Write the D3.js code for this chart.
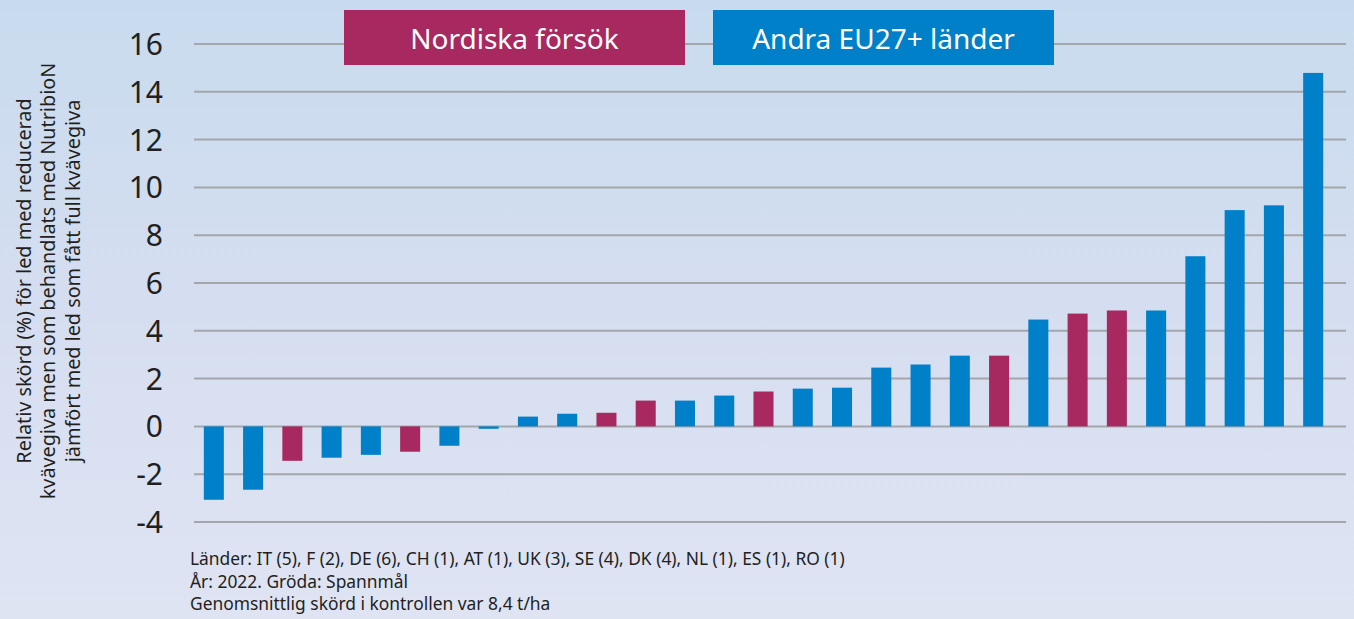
<!DOCTYPE html>
<html>
<head>
<meta charset="UTF-8">
<title>Relativ skörd</title>
<script src="https://cdn.jsdelivr.net/npm/d3@7"></script>
<style>
  html, body { margin: 0; padding: 0; }
  body { width: 1354px; height: 619px; overflow: hidden;
         background: linear-gradient(180deg, #c8dbee 0%, #d5def0 50%, #dfe4f3 100%); }
  svg { display: block; font-family: "Noto Sans", sans-serif; }
</style>
</head>
<body>
<script>
// data, sorted as in the picture
var values = [-3.07, -2.65, -1.44, -1.31, -1.19, -1.06, -0.81, -0.1, 0.41, 0.53,
              0.57, 1.08, 1.08, 1.29, 1.46, 1.58, 1.62, 2.46, 2.59, 2.96,
              2.96, 4.47, 4.72, 4.85, 4.85, 7.12, 9.05, 9.25, 14.79];
// N = Nordiska försök, A = Andra EU27+ länder
var groups = ["A","A","N","A","A","N","A","A","A","A",
              "N","N","A","A","N","A","A","A","A","A",
              "N","A","N","N","A","A","A","A","A"];
var yTicks = [-4, -2, 0, 2, 4, 6, 8, 10, 12, 14, 16];
var legendLabels = ["Nordiska försök", "Andra EU27+ länder"];
var yTitle = ["Relativ skörd (%) för led med reducerad",
              "kvävegiva men som behandlats med NutribioN",
              "jämfört med led som fått full kvävegiva"];
var notes = ["Länder: IT (5), F (2), DE (6), CH (1), AT (1), UK (3), SE (4), DK (4), NL (1), ES (1), RO (1)",
             "År: 2022. Gröda: Spannmål",
             "Genomsnittlig skörd i kontrollen var 8,4 t/ha"];

var w = 1354, h = 619;
var color = { N: "#a8295f", A: "#0080c8" };

var svg = d3.select("body").append("svg")
  .attr("width", w).attr("height", h);

var x = d3.scaleBand()
  .domain(d3.range(values.length))
  .range([194, 1333])
  .paddingInner(0.49)
  .paddingOuter(0.25);

var y = d3.scaleLinear()
  .domain([-4, 16])
  .range([522, 44]);

// gridlines
svg.append("g")
  .selectAll("line")
  .data(yTicks)
  .enter()
  .append("line")
  .attr("x1", 194).attr("x2", 1346)
  .attr("y1", function(d){ return y(d); })
  .attr("y2", function(d){ return y(d); })
  .attr("stroke", "#a3a6ab")
  .attr("stroke-width", 2);

// y axis labels
var yAxis = d3.axisLeft(y).tickValues(yTicks).tickSize(0).tickPadding(0)
  .tickFormat(function(d){ return String(d); });
var ga = svg.append("g").attr("transform", "translate(163,0)").call(yAxis);
ga.select(".domain").remove();
ga.selectAll("text")
  .attr("font-family", "Noto Sans, sans-serif")
  .attr("font-size", 30)
  .attr("fill", "#231f20")
  .attr("dy", "0.35em");

// bars
svg.append("g")
  .selectAll("rect")
  .data(values)
  .enter()
  .append("rect")
  .attr("x", function(d, i){ return x(i); })
  .attr("width", x.bandwidth())
  .attr("y", function(d){ return y(Math.max(0, d)); })
  .attr("height", function(d){ return Math.abs(y(d) - y(0)); })
  .attr("fill", function(d, i){ return color[groups[i]]; });

// legend boxes
var legend = svg.append("g").selectAll("g")
  .data(legendLabels)
  .enter()
  .append("g")
  .attr("transform", function(d, i){ return "translate(" + (344 + i * 369) + ",10)"; });
legend.append("rect")
  .attr("width", 341).attr("height", 55)
  .attr("fill", function(d, i){ return i === 0 ? color.N : color.A; });
legend.append("text")
  .attr("x", 170.5).attr("y", 39)
  .attr("text-anchor", "middle")
  .attr("font-size", 28)
  .attr("fill", "#fff")
  .text(function(d){ return d; });

// y title
svg.append("g")
  .attr("transform", "translate(48,281) rotate(-90)")
  .selectAll("text")
  .data(yTitle)
  .enter()
  .append("text")
  .attr("y", function(d, i){ return (i - 1) * 24.5 + 7; })
  .attr("text-anchor", "middle")
  .attr("font-size", 19.8)
  .attr("fill", "#231f20")
  .text(function(d){ return d; });

// footnotes
svg.append("g")
  .selectAll("text")
  .data(notes)
  .enter()
  .append("text")
  .attr("x", 190)
  .attr("y", function(d, i){ return 565 + i * 22.5; })
  .attr("font-size", 17.4)
  .attr("fill", "#231f20")
  .text(function(d){ return d; });
</script>
</body>
</html>
